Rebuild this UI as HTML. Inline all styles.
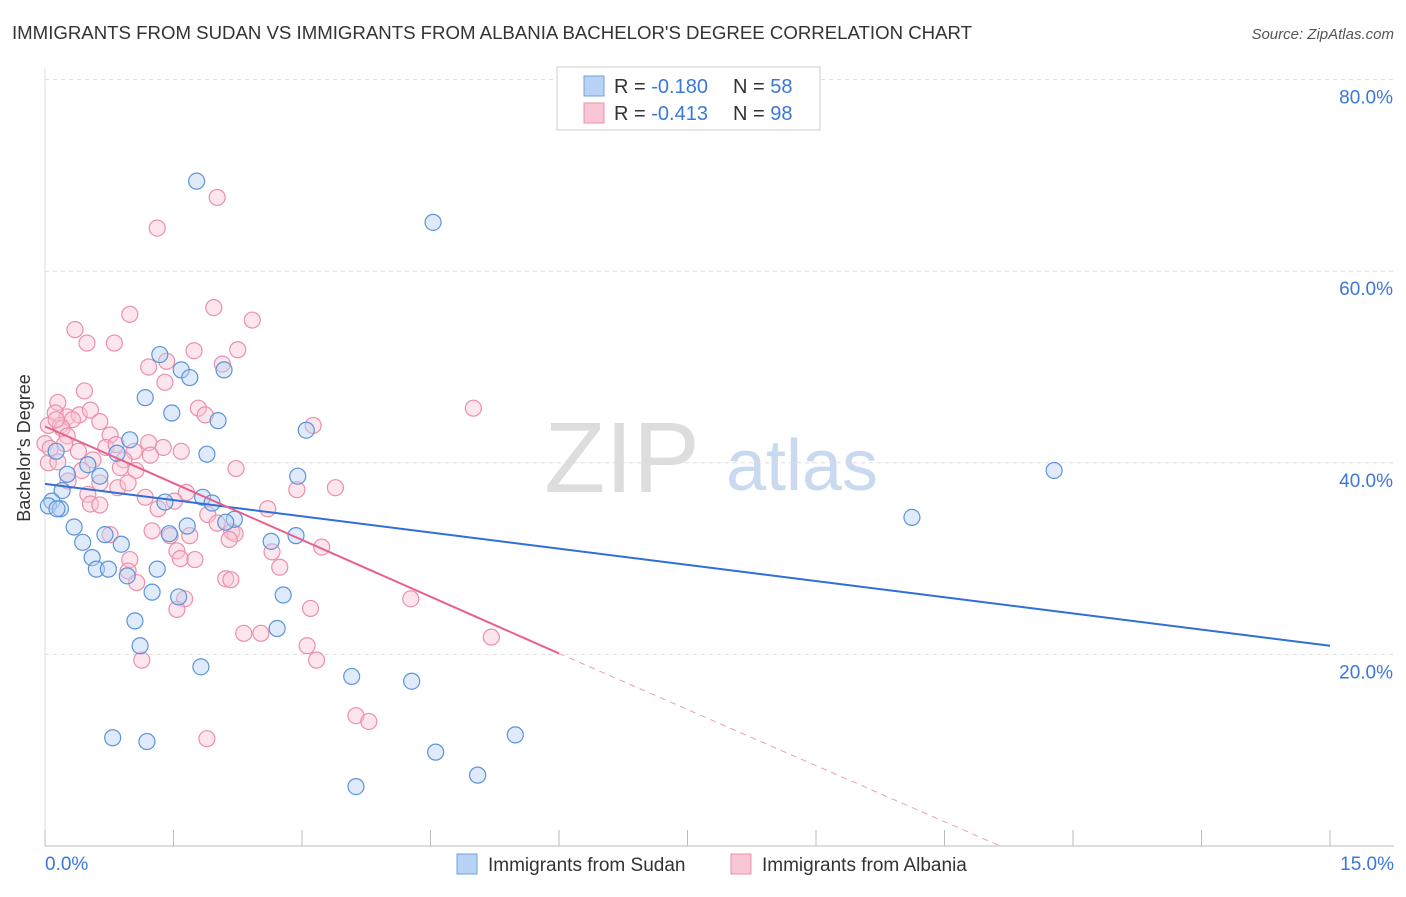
<!DOCTYPE html>
<html><head><meta charset="utf-8">
<style>
body{margin:0;background:#fff;font-family:"Liberation Sans",sans-serif;}
svg text{font-family:"Liberation Sans",sans-serif;}
</style></head>
<body>
<svg id="chart" width="1406" height="892" xmlns="http://www.w3.org/2000/svg">
<text x="12" y="39" font-size="18" fill="#333" textLength="960" lengthAdjust="spacingAndGlyphs">IMMIGRANTS FROM SUDAN VS IMMIGRANTS FROM ALBANIA BACHELOR'S DEGREE CORRELATION CHART</text>
<text x="1394" y="39" font-size="15" fill="#555" font-style="italic" text-anchor="end">Source: ZipAtlas.com</text>
<text x="38" y="456" font-size="18" fill="#333" text-anchor="middle" transform="rotate(-90 30 456)">Bachelor's Degree</text>
<g>
<text x="622" y="492" font-size="100" fill="#ddd" font-family="Liberation Serif" text-anchor="middle">ZIP</text>
<text x="802" y="490" font-size="72" fill="#c9d9ef" text-anchor="middle">atlas</text>
</g>
<g id="grid"></g>
<g id="axes"></g>
<g id="points"></g>
<g id="trends"></g>
<g>
<rect x="557" y="67" width="263" height="63" fill="#fff" stroke="#ccc"/>
<rect x="584" y="76" width="20" height="20" fill="#b8d3f5" stroke="#6fa0e0"/>
<rect x="584" y="103" width="20" height="20" fill="#f9c6d5" stroke="#ec8fab"/>
<text x="614" y="93" font-size="20" fill="#333">R = <tspan fill="#3a78d8">-0.180</tspan></text>
<text x="733" y="93" font-size="20" fill="#333">N = <tspan fill="#3a78d8">58</tspan></text>
<text x="614" y="120" font-size="20" fill="#333">R = <tspan fill="#3a78d8">-0.413</tspan></text>
<text x="733" y="120" font-size="20" fill="#333">N = <tspan fill="#3a78d8">98</tspan></text>
</g>
<g>
<rect x="457" y="854" width="20" height="20" fill="#b8d3f5" stroke="#6fa0e0"/>
<text x="488" y="871" font-size="19" fill="#333">Immigrants from Sudan</text>
<rect x="731" y="854" width="20" height="20" fill="#f9c6d5" stroke="#ec8fab"/>
<text x="762" y="871" font-size="19" fill="#333">Immigrants from Albania</text>
</g>
</svg>
<script>
const yTicks=[20,40,60,80];
const yTickLabels=["20.0%","40.0%","60.0%","80.0%"];
const xTickLabels=["0.0%","15.0%"];
const sudanX=[1.77,4.53,1.34,1.59,2.09,1.69,1.17,1.48,2.02,3.05,0.99,0.84,1.89,0.13,0.50,0.64,0.26,0.20,0.08,0.04,0.18,1.4,1.84,1.95,2.95,0.34,2.21,2.11,1.66,1.45,0.70,2.93,0.44,0.89,2.64,0.55,0.60,0.74,0.96,1.31,1.25,1.56,2.78,1.05,2.71,1.11,1.82,3.58,4.28,5.49,0.79,1.19,4.56,5.05,3.63,11.78,10.12,0.14];
const sudanY=[69.4,65.1,51.3,49.7,49.7,48.9,46.8,45.2,44.4,43.4,42.4,41.0,40.9,41.2,39.8,38.6,38.8,37.1,36.0,35.5,35.2,35.9,36.4,35.8,38.6,33.3,34.1,33.8,33.4,32.6,32.5,32.4,31.7,31.5,31.8,30.1,28.9,28.9,28.2,28.9,26.5,26.0,26.2,23.5,22.7,20.9,18.7,17.7,17.2,11.6,11.3,10.9,9.8,7.4,6.2,39.2,34.3,35.2];
const albX=[2.01,1.31,1.97,0.99,2.42,0.35,0.49,0.81,2.25,1.74,1.42,1.21,2.07,0.46,0.15,5.0,1.79,0.12,0.26,0.40,0.53,1.87,3.13,0.04,0.18,0.32,0.64,0.76,0.20,0.26,0.23,1.21,1.38,1.04,0.56,0.92,0.88,1.06,2.23,1.23,0,0.06,0.04,0.15,0.64,0.50,0.85,0.97,2.94,3.39,1.17,1.65,0.53,0.64,1.51,1.32,1.90,2.60,2.01,2.18,2.22,1.46,0.76,1.25,1.69,1.54,1.58,3.23,2.65,1.75,0.99,0.97,2.11,2.17,2.74,1.07,1.63,4.27,1.54,3.10,2.32,2.52,3.06,3.17,1.13,5.21,3.63,3.78,1.89,0.13,0.39,0.71,0.43,0.27,0.83,1.59,2.15,1.40];
const albY=[67.7,64.5,56.2,55.5,54.9,53.9,52.5,52.5,51.8,51.7,50.6,50.0,50.3,47.5,46.3,45.7,45.7,45.2,44.8,45.0,45.5,45.0,43.9,43.9,43.9,44.5,44.3,42.9,43.6,42.8,42.0,42.1,41.6,41.2,40.3,40.3,39.5,39.2,39.4,40.8,42.0,41.5,40.0,40.1,37.9,36.7,37.4,37.9,37.2,37.4,36.4,36.9,35.7,35.6,36.0,35.2,34.6,35.2,33.7,32.8,32.6,32.4,32.5,32.9,32.4,30.8,30.0,31.2,30.7,29.9,29.9,28.7,27.9,27.8,29.1,27.5,25.8,25.8,24.7,24.8,22.2,22.2,20.9,19.4,19.4,21.8,13.6,13.0,11.2,44.5,41.2,41.6,39.2,38.1,41.9,41.2,32.0,48.4];
const sudanTrend=[[0,37.8],[15,20.9]];
const albTrend=[[0,43.8],[6,20.1]];
const albTrendExt=[[6,20.1],[11.15,0]];
const X=v=>45+v*(1285/15), Y=v=>846-v*9.58;
const NS="http://www.w3.org/2000/svg";
function mk(t,a,p){const e=document.createElementNS(NS,t);for(const k in a)e.setAttribute(k,a[k]);p.appendChild(e);return e;}
const grid=document.getElementById('grid'),axes=document.getElementById('axes'),pts=document.getElementById('points'),tr=document.getElementById('trends');
yTicks.forEach((t,i)=>{
 const l=mk('line',{x1:45,x2:1394,y1:Y(t),y2:Y(t),stroke:'#ddd','stroke-dasharray':'4 4'},grid);
 
 
 const tx=mk('text',{x:1393,y:Y(t)+24,'font-size':19,fill:'#3a78d8','text-anchor':'end'},axes);
 tx.textContent=yTickLabels[i];
 
 
});
const ax=mk('line',{x1:45,x2:1394,y1:846,y2:846,stroke:'#bbb'},axes);


const ay=mk('line',{x1:45,x2:45,y1:68,y2:846,stroke:'#ddd'},axes);


for(let i=0;i<=10;i++){const t=mk('line',{x1:X(i*1.5),x2:X(i*1.5),y1:830,y2:846,stroke:'#bbb'},axes);
 
 }
[[0,'start',45],[1,'end',1394]].forEach(([i,a,x])=>{const t=mk('text',{x:x,y:870,'font-size':19,fill:'#3a78d8','text-anchor':a},axes);t.textContent=xTickLabels[i];
 
 });
function dots(xs,ys,fill,stroke,name){xs.forEach((x,i)=>{const c=mk('circle',{cx:X(x),cy:Y(ys[i]),r:8,fill:fill,'fill-opacity':0.45,stroke:stroke,'stroke-width':1.2},pts);
 
 });}
dots(albX,albY,'#f9c6d5','#ec8fab','albania-point');
dots(sudanX,sudanY,'#b8d3f5','#5b93dc','sudan-point');
const l1=mk('line',{x1:X(sudanTrend[0][0]),y1:Y(sudanTrend[0][1]),x2:X(sudanTrend[1][0]),y2:Y(sudanTrend[1][1]),stroke:'#2f6fd6','stroke-width':2},tr);


const l2=mk('line',{x1:X(albTrend[0][0]),y1:Y(albTrend[0][1]),x2:X(albTrend[1][0]),y2:Y(albTrend[1][1]),stroke:'#e8608c','stroke-width':2},tr);


const l3=mk('line',{x1:X(albTrendExt[0][0]),y1:Y(albTrendExt[0][1]),x2:X(albTrendExt[1][0]),y2:Y(albTrendExt[1][1]),stroke:'#e8a0b8','stroke-width':1,'stroke-dasharray':'6 5'},tr);


</script>
</body></html>
